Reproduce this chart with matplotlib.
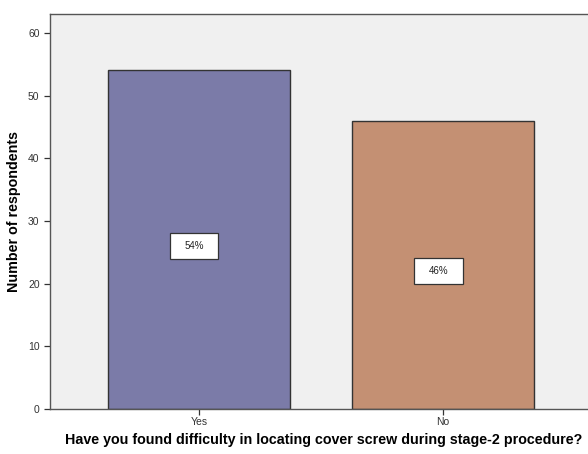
import numpy as np
import matplotlib.pyplot as plt
from matplotlib.patches import Rectangle

plt.rcParams['font.family'] = ['Liberation Sans', 'DejaVu Sans']

# odpowiedzi i liczba respondentów
categories = ['Yes', 'No']
counts = [54, 46]
percent_labels = ['54%', '46%']
bar_colors = ['#7b7ba8', '#c49073']

fig = plt.figure(figsize=(5.88, 4.54), dpi=100)
ax = fig.add_axes([0.085, 0.099, 0.93, 0.870])
ax.set_facecolor('#f0f0f0')

x = np.arange(len(categories))
ax.bar(x, counts, width=0.745, color=bar_colors, edgecolor='#333333', linewidth=1.0, zorder=2)

# etykiety procentowe w białych ramkach w środku słupków
for xi, c, lab in zip(x, counts, percent_labels):
    cx, cy = xi - 0.02, c / 2 - 1
    ax.add_patch(Rectangle((cx - 0.1, cy - 2.05), 0.2, 4.1, fc='white', ec='#333333',
                           lw=0.9, zorder=3))
    ax.text(cx, cy, lab, ha='center', va='center', fontsize=7, color='#222222', zorder=4)

ax.set_xlim(-0.61, 1.63)
ax.set_ylim(0, 63)
ax.set_yticks(range(0, 61, 10))
ax.set_xticks(x)
ax.set_xticklabels(categories)
ax.tick_params(axis='both', labelsize=7.5, colors='#333333', length=4, width=0.9)
ax.tick_params(axis='x', pad=2)

for s in ['left', 'bottom', 'top']:
    ax.spines[s].set_color('#555555')
    ax.spines[s].set_linewidth(1.0)
ax.spines['right'].set_visible(False)

ax.set_ylabel('Number of respondents', fontsize=10.3, fontweight='bold', labelpad=5)
ax.set_xlabel('Have you found difficulty in locating cover screw during stage-2 procedure?',
              fontsize=10.3, fontweight='bold', labelpad=4)

fig.savefig('out.png', dpi=100)
